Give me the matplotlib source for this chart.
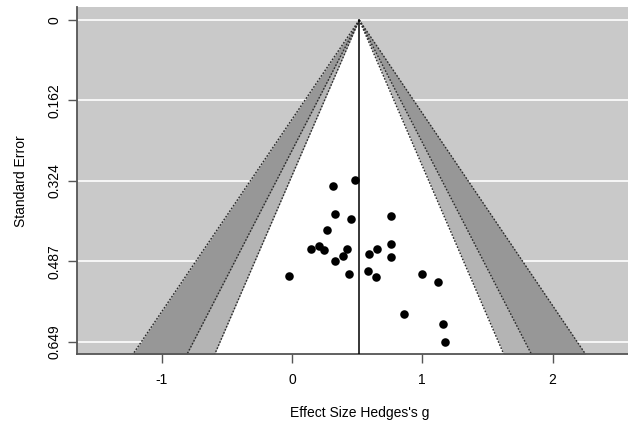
import numpy as np
import matplotlib.pyplot as plt

plt.rcParams['font.family'] = ['Liberation Sans', 'DejaVu Sans']

# study effect sizes (Hedges's g) and standard errors
g = [0.486, 0.312, 0.328, 0.450, 0.762, 0.271, 0.144, 0.210, 0.246, 0.425,
     0.394, 0.328, 0.437, -0.025, 0.593, 0.650, 0.762, 0.760, 0.583, 0.642,
     0.997, 1.122, 0.862, 1.162, 1.177]
se = [0.323, 0.335, 0.392, 0.401, 0.395, 0.424, 0.462, 0.455, 0.465, 0.462,
      0.477, 0.487, 0.512, 0.516, 0.473, 0.462, 0.451, 0.478, 0.507, 0.519,
      0.512, 0.529, 0.594, 0.613, 0.649]

est = 0.516  # pooled estimate (funnel centre)
levels = [0.99, 0.95, 0.90]
z_vals = [2.576, 1.960, 1.645]
shades = ['#979797', '#b4b4b4', 'white']

se_max = 0.649
ytick_labels = ['0', '0.162', '0.324', '0.487', '0.649']
xticks = [-1, 0, 1, 2]

fig = plt.figure(figsize=(6.28, 4.24), dpi=100)
ax = fig.add_axes([77 / 628, 1 - 354.3 / 424, (642 - 77) / 628, (354.3 - 7.3) / 424])
ax.set_facecolor('#c9c9c9')

y_bot, y_top = 0.6744, -0.0256
ax.set_xlim(-1.65, 2.686)
ax.set_ylim(y_bot, y_top)

yt = np.linspace(0, se_max, 5)
for t in yt:
    ax.axhline(t, color='white', lw=1.2, zorder=0.5)

# contour regions
s = np.array([0, y_bot])
for z, c in zip(z_vals, shades):
    ax.fill_betweenx(s, est - z * s, est + z * s, color=c, lw=0, zorder=1)
for z in z_vals:
    ax.plot(est - z * s, s, linestyle=(0, (1.2, 1.2)), color='#2a2a2a', lw=1.0, zorder=2)
    ax.plot(est + z * s, s, linestyle=(0, (1.2, 1.2)), color='#2a2a2a', lw=1.0, zorder=2)

ax.plot([est, est], [0, y_bot], color='black', lw=1.1, zorder=3)
ax.scatter(g, se, s=38, color='black', zorder=4, linewidths=0)

ax.set_yticks(yt)
ax.set_yticklabels(ytick_labels, rotation=90, va='center', fontsize=10)
ax.set_xticks(xticks)
ax.set_xticklabels([str(v) for v in xticks], fontsize=10)
ax.tick_params(axis='both', length=6.5, width=1, color='#555555', pad=7)
ax.tick_params(axis='y', pad=5)

for side in ['top', 'right']:
    ax.spines[side].set_visible(False)
for side in ['left', 'bottom']:
    ax.spines[side].set_color('#555555')
    ax.spines[side].set_linewidth(1.3)

ax.set_xlabel("Effect Size Hedges's g", fontsize=10, labelpad=14)
ax.set_ylabel("Standard Error", fontsize=10, labelpad=14)

fig.savefig('out.png', dpi=100)
